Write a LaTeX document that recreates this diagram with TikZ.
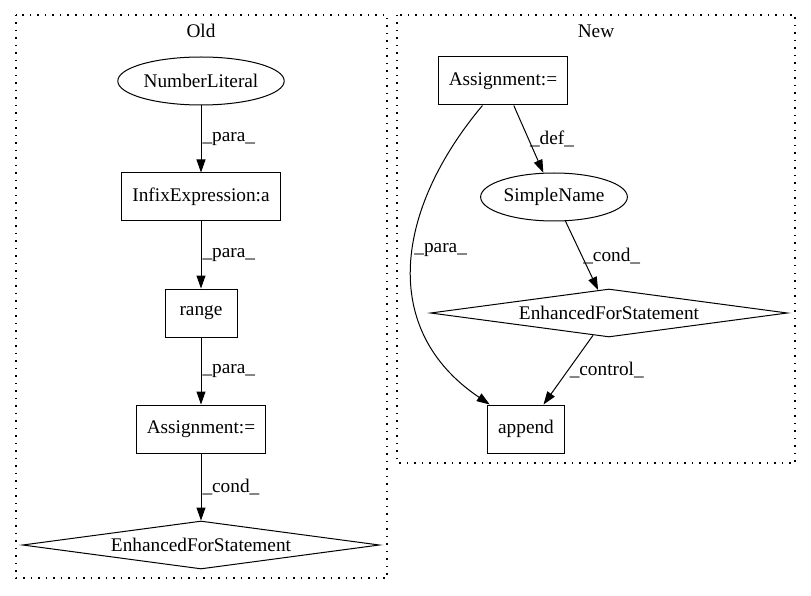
\documentclass[tikz,border=0pt]{standalone}
\usepackage{fontspec}
\setmainfont{Liberation Serif}
\usepackage{tikz}
\usetikzlibrary{arrows.meta,shapes.geometric}

\begin{document}
\begin{tikzpicture}[->,>={Triangle[length=13pt,width=9pt]},x=1pt,y=-1pt,auto,
  line width=1pt,every node/.style={font=\fontsize{19.3}{22}\selectfont},
  box node/.style={rectangle,draw,minimum width=72pt,minimum height=48pt,inner xsep=10.4pt},
  oval node/.style={ellipse,draw,minimum height=48pt,inner xsep=1.5pt},
  cond node/.style={diamond,draw,aspect=7.4,inner sep=0pt,minimum width=357pt,minimum height=48pt},
  cluster/.style={draw,-,line width=1.2pt,dash pattern=on 1.5pt off 6pt},
  lbl/.style={right,inner sep=1pt}]

  \useasboundingbox (0,0) rectangle (811,596);

  % clusters
  \draw[cluster] (16,15) rectangle (387,578);
  \draw[cluster] (397,15) rectangle (795,463);
  \node (oldlabel) at (201,31) {Old};
  \node (newlabel) at (596,31) {New};

  % old
  \node[oval node] (numlit) at (201,81) {NumberLiteral};
  \node[box node] (infix) at (201,197) {InfixExpression:a};
  \node[box node] (range) at (201,313) {range};
  \node[box node] (assignold) at (201,429) {Assignment:=};
  \node[cond node] (forold) at (201,545) {EnhancedForStatement};

  % new
  \node[box node] (assignnew) at (503,81) {Assignment:=};
  \node[oval node] (simplename) at (554,197) {SimpleName};
  \node[cond node] (fornew) at (609,313) {EnhancedForStatement};
  \node[box node] (append) at (526,429) {append};

  \path
    (numlit) edge node[lbl] {\_para\_} (infix)
    (infix) edge node[lbl] {\_para\_} (range)
    (range) edge node[lbl] {\_para\_} (assignold)
    (assignold) edge node[lbl] {\_cond\_} (forold)
    (assignnew) edge node[lbl] {\_def\_} (simplename)
          edge[out=230,in=146,looseness=1.15] node[lbl,pos=0.45] {\_para\_} (append)
    (simplename) edge node[lbl] {\_cond\_} (fornew)
    (fornew) edge node[lbl] {\_control\_} (append);

\end{tikzpicture}
\end{document}
